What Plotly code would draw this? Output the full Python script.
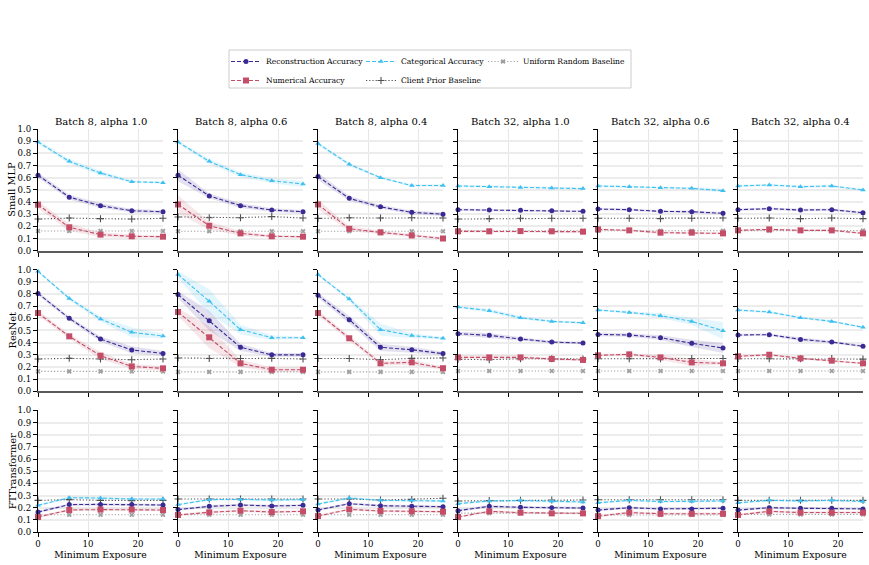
import plotly.graph_objects as go
from plotly.subplots import make_subplots

# ---------------- data ----------------
X = [0, 6.25, 12.5, 18.75, 25]
COL_TITLES = ["Batch 8, alpha 1.0", "Batch 8, alpha 0.6", "Batch 8, alpha 0.4",
              "Batch 32, alpha 1.0", "Batch 32, alpha 0.6", "Batch 32, alpha 0.4"]
ROW_NAMES = ["Small MLP", "ResNet", "FTTransformer"]
SERIES_NAMES = ["Reconstruction Accuracy", "Numerical Accuracy", "Categorical Accuracy",
                "Client Prior Baseline", "Uniform Random Baseline"]
Y_TICKS = [0.0, 0.1, 0.2, 0.3, 0.4, 0.5, 0.6, 0.7, 0.8, 0.9, 1.0]
X_TICKS = [0, 10, 20]
X_LABEL = "Minimum Exposure"

# Small MLP (one list per column)
MLP_REC = [[0.62, 0.44, 0.37, 0.328, 0.32],
           [0.62, 0.45, 0.37, 0.334, 0.32],
           [0.61, 0.43, 0.36, 0.315, 0.30],
           [0.337, 0.334, 0.332, 0.329, 0.323],
           [0.342, 0.337, 0.323, 0.32, 0.307],
           [0.337, 0.345, 0.334, 0.337, 0.312]]
MLP_REC_SD = [[0.02, 0.02, 0.02, 0.015, 0.015],
              [0.05, 0.02, 0.02, 0.015, 0.015],
              [0.03, 0.02, 0.015, 0.015, 0.015],
              [0.01, 0.01, 0.01, 0.01, 0.01],
              [0.01, 0.01, 0.01, 0.01, 0.01],
              [0.01, 0.01, 0.01, 0.01, 0.01]]
MLP_NUM = [[0.378, 0.192, 0.132, 0.118, 0.115],
           [0.38, 0.205, 0.142, 0.118, 0.115],
           [0.38, 0.18, 0.15, 0.125, 0.10],
           [0.159, 0.159, 0.161, 0.159, 0.156],
           [0.175, 0.167, 0.148, 0.148, 0.142],
           [0.167, 0.175, 0.167, 0.167, 0.142]]
MLP_NUM_SD = [[0.03, 0.03, 0.02, 0.015, 0.01],
              [0.075, 0.03, 0.02, 0.01, 0.01],
              [0.04, 0.02, 0.015, 0.01, 0.01],
              [0.01, 0.01, 0.01, 0.01, 0.01],
              [0.01, 0.01, 0.01, 0.01, 0.01],
              [0.01, 0.01, 0.01, 0.01, 0.01]]
MLP_CAT = [[0.893, 0.734, 0.638, 0.567, 0.559],
           [0.893, 0.734, 0.625, 0.575, 0.548],
           [0.88, 0.71, 0.60, 0.535, 0.535],
           [0.532, 0.526, 0.52, 0.515, 0.51],
           [0.532, 0.526, 0.518, 0.512, 0.493],
           [0.532, 0.54, 0.526, 0.532, 0.499]]
MLP_CAT_SD = [[0.015, 0.02, 0.02, 0.01, 0.01],
              [0.015, 0.02, 0.02, 0.02, 0.025],
              [0.015, 0.015, 0.01, 0.01, 0.01],
              [0.01, 0.01, 0.01, 0.01, 0.01],
              [0.01, 0.01, 0.01, 0.01, 0.015],
              [0.01, 0.01, 0.01, 0.01, 0.01]]
MLP_CLIENT = [[0.26, 0.268, 0.263, 0.26, 0.266],
              [0.277, 0.271, 0.271, 0.28, 0.268],
              [0.265, 0.27, 0.268, 0.27, 0.268],
              [0.26, 0.263, 0.266, 0.266, 0.266],
              [0.266, 0.266, 0.263, 0.266, 0.268],
              [0.266, 0.268, 0.263, 0.268, 0.263]]
MLP_UNIFORM = [[0.162] * 5, [0.159] * 5, [0.16] * 5,
               [0.164] * 5, [0.164] * 5, [0.165] * 5]

# ResNet
RES_REC = [[0.805, 0.60, 0.43, 0.34, 0.312],
           [0.795, 0.581, 0.362, 0.30, 0.30],
           [0.79, 0.589, 0.362, 0.342, 0.31],
           [0.474, 0.46, 0.43, 0.405, 0.397],
           [0.468, 0.463, 0.441, 0.395, 0.356],
           [0.463, 0.466, 0.427, 0.405, 0.37]]
RES_REC_SD = [[0.015, 0.015, 0.02, 0.03, 0.02],
              [0.03, 0.08, 0.03, 0.015, 0.015],
              [0.02, 0.03, 0.03, 0.025, 0.015],
              [0.015, 0.02, 0.015, 0.01, 0.01],
              [0.015, 0.015, 0.02, 0.03, 0.04],
              [0.01, 0.01, 0.015, 0.01, 0.01]]
RES_NUM = [[0.644, 0.452, 0.293, 0.205, 0.189],
           [0.652, 0.444, 0.23, 0.178, 0.178],
           [0.644, 0.436, 0.23, 0.238, 0.19],
           [0.279, 0.279, 0.279, 0.266, 0.258],
           [0.296, 0.304, 0.279, 0.238, 0.23],
           [0.288, 0.301, 0.271, 0.252, 0.23]]
RES_NUM_SD = [[0.02, 0.02, 0.03, 0.02, 0.02],
              [0.03, 0.09, 0.03, 0.02, 0.02],
              [0.02, 0.02, 0.02, 0.02, 0.015],
              [0.015, 0.015, 0.015, 0.01, 0.01],
              [0.01, 0.01, 0.02, 0.03, 0.01],
              [0.01, 0.01, 0.01, 0.01, 0.01]]
RES_CAT = [[0.986, 0.764, 0.595, 0.485, 0.455],
           [0.96, 0.74, 0.507, 0.441, 0.441],
           [0.96, 0.759, 0.507, 0.458, 0.436],
           [0.693, 0.663, 0.605, 0.575, 0.564],
           [0.668, 0.649, 0.622, 0.575, 0.499],
           [0.668, 0.652, 0.605, 0.575, 0.526]]
RES_CAT_SD = [[0.01, 0.015, 0.02, 0.04, 0.02],
              [0.03, 0.1, 0.04, 0.02, 0.01],
              [0.01, 0.015, 0.05, 0.02, 0.01],
              [0.01, 0.015, 0.015, 0.01, 0.01],
              [0.01, 0.01, 0.02, 0.03, 0.07],
              [0.01, 0.01, 0.01, 0.01, 0.01]]
RES_CLIENT = [[0.266, 0.271, 0.266, 0.26, 0.266],
              [0.274, 0.27, 0.27, 0.271, 0.266],
              [0.27, 0.27, 0.26, 0.271, 0.274],
              [0.263, 0.26, 0.268, 0.268, 0.266],
              [0.268, 0.268, 0.268, 0.27, 0.27],
              [0.268, 0.268, 0.268, 0.27, 0.265]]
RES_UNIFORM = [[0.164] * 5, [0.16] * 5, [0.16] * 5,
               [0.167] * 5, [0.167] * 5, [0.167] * 5]

# FTTransformer
FT_REC = [[0.164, 0.225, 0.227, 0.225, 0.222],
          [0.184, 0.211, 0.222, 0.214, 0.219],
          [0.181, 0.233, 0.216, 0.211, 0.208],
          [0.175, 0.211, 0.203, 0.2, 0.197],
          [0.18, 0.2, 0.19, 0.19, 0.195],
          [0.18, 0.2, 0.195, 0.195, 0.19]]
FT_NUM = [[0.123, 0.181, 0.184, 0.184, 0.181],
          [0.14, 0.162, 0.175, 0.164, 0.17],
          [0.131, 0.186, 0.173, 0.17, 0.167],
          [0.123, 0.17, 0.159, 0.153, 0.153],
          [0.13, 0.16, 0.15, 0.15, 0.15],
          [0.14, 0.17, 0.16, 0.16, 0.16]]
FT_CAT = [[0.219, 0.282, 0.279, 0.271, 0.271],
          [0.225, 0.266, 0.268, 0.263, 0.266],
          [0.23, 0.279, 0.26, 0.26, 0.255],
          [0.233, 0.255, 0.258, 0.252, 0.247],
          [0.24, 0.26, 0.25, 0.25, 0.255],
          [0.24, 0.26, 0.255, 0.26, 0.25]]
FT_SD = [[0.01, 0.01, 0.01, 0.01, 0.01]] * 6
FT_CLIENT = [[0.26, 0.266, 0.26, 0.258, 0.26],
             [0.271, 0.271, 0.271, 0.271, 0.271],
             [0.271, 0.271, 0.263, 0.268, 0.277],
             [0.255, 0.258, 0.26, 0.263, 0.263],
             [0.265, 0.265, 0.265, 0.265, 0.265],
             [0.26, 0.26, 0.26, 0.26, 0.26]]
FT_UNIFORM = [[0.142] * 5, [0.142] * 5, [0.142] * 5,
              [0.155] * 5, [0.14] * 5, [0.145] * 5]

MODELS = [
    (MLP_REC, MLP_REC_SD, MLP_NUM, MLP_NUM_SD, MLP_CAT, MLP_CAT_SD, MLP_CLIENT, MLP_UNIFORM),
    (RES_REC, RES_REC_SD, RES_NUM, RES_NUM_SD, RES_CAT, RES_CAT_SD, RES_CLIENT, RES_UNIFORM),
    (FT_REC, FT_SD, FT_NUM, FT_SD, FT_CAT, FT_SD, FT_CLIENT, FT_UNIFORM),
]

# ---------------- styles ----------------
FONT = "DejaVu Serif"
W, H = 869, 565
ML, MR, MT, MB = 38, 6, 129, 33
PW, PH = W - ML - MR, H - MT - MB

C_REC = "#3a2a93"
C_NUM = "#c44e68"
C_CAT = "#3ec0f0"
C_CLIENT = "#505050"
C_UNI = "#a0a0a0"


def rgba(hexc, a):
    h = hexc.lstrip("#")
    return "rgba(%d,%d,%d,%.2f)" % (int(h[0:2], 16), int(h[2:4], 16), int(h[4:6], 16), a)


DASHED = "4px,2px"
DOTTED = "1.2px,2px"
STYLES = [
    dict(color=C_REC, dash=DASHED, symbol="circle", size=5, legend="legend"),
    dict(color=C_NUM, dash=DASHED, symbol="square", size=6, legend="legend"),
    dict(color=C_CAT, dash=DASHED, symbol="triangle-up", size=5, legend="legend2"),
    dict(color=C_CLIENT, dash=DOTTED, symbol="cross-thin", size=5, legend="legend2"),
    dict(color=C_UNI, dash=DOTTED, symbol="x", size=4.5, legend="legend3"),
]

fig = make_subplots(rows=3, cols=6, subplot_titles=COL_TITLES,
                    horizontal_spacing=15 / PW, vertical_spacing=19 / PH)

for r, model in enumerate(MODELS):
    rec, rec_sd, num, num_sd, cat, cat_sd, client, uni = model
    for c in range(6):
        means = [rec[c], num[c], cat[c], client[c], uni[c]]
        sds = [rec_sd[c], num_sd[c], cat_sd[c], None, None]
        # shaded spread bands
        for k in range(3):
            m, s = means[k], sds[k]
            up = [a + b for a, b in zip(m, s)]
            lo = [a - b for a, b in zip(m, s)]
            fig.add_trace(go.Scatter(
                x=X + X[::-1], y=up + lo[::-1], fill="toself",
                fillcolor=rgba(STYLES[k]["color"], 0.14), line=dict(width=0),
                mode="lines", showlegend=False, hoverinfo="skip"), row=r + 1, col=c + 1)
        for k in [4, 3, 0, 1, 2]:
            st = STYLES[k]
            mline = dict(width=1.1, color=st["color"]) if st["symbol"] == "cross-thin" else dict(width=0)
            fig.add_trace(go.Scatter(
                x=X, y=means[k], mode="lines+markers", name=SERIES_NAMES[k],
                line=dict(color=st["color"], dash=st["dash"], width=1.1),
                marker=dict(symbol=st["symbol"], size=st["size"], color=st["color"], line=mline),
                cliponaxis=False,
                legend=st["legend"], legendrank=k,
                showlegend=(r == 0 and c == 0)), row=r + 1, col=c + 1)

for r in range(3):
    for c in range(6):
        bottom = (r == 2)
        fig.update_xaxes(row=r + 1, col=c + 1, range=[0, 25], tickvals=X_TICKS,
                         showticklabels=bottom, ticks="outside", ticklen=4,
                         tickcolor="black", showline=True,
                         linecolor="black" if bottom else "#5a5a5a",
                         linewidth=1.3 if bottom else 2.2,
                         showgrid=True, gridcolor="#e6e6e6", gridwidth=1,
                         zeroline=False,
                         tickfont=dict(family=FONT, size=8.6, color="black"),
                         title=dict(text=X_LABEL if bottom else None,
                                    font=dict(family=FONT, size=9.3, color="black"),
                                    standoff=3))
        fig.update_yaxes(row=r + 1, col=c + 1, range=[0, 1.0], tickvals=Y_TICKS,
                         tickformat=".1f", showticklabels=(c == 0),
                         ticks="outside", ticklen=4, tickcolor="black",
                         showline=True, linecolor="black", linewidth=1.3,
                         showgrid=True, gridcolor="#ececec", gridwidth=1.5,
                         zeroline=False,
                         tickfont=dict(family=FONT, size=8.6, color="black"))

# subplot title fonts
for ann in fig.layout.annotations:
    ann.font = dict(family=FONT, size=10, color="black")

# row labels
for r, name in enumerate(ROW_NAMES):
    dom = fig.layout["yaxis%s" % ("" if r == 0 else str(r * 6 + 1))].domain
    fig.add_annotation(text=name, textangle=-90, xref="paper", yref="paper",
                       x=(12 - ML) / PW, y=(dom[0] + dom[1]) / 2,
                       xanchor="center", yanchor="middle", showarrow=False,
                       font=dict(family=FONT, size=9.8, color="black"))


def px_x(px):
    return (px - ML) / PW


def px_y(py):
    return (H - MB - py) / PH


leg_common = dict(font=dict(family=FONT, size=7.6, color="black"), bgcolor="rgba(0,0,0,0)",
                  borderwidth=0, orientation="v", yanchor="top", xanchor="left",
                  tracegroupgap=0, itemwidth=30)
fig.update_layout(
    legend=dict(x=px_x(226), y=px_y(47), **leg_common),
    legend2=dict(x=px_x(361), y=px_y(47), **leg_common),
    legend3=dict(x=px_x(483), y=px_y(47), **leg_common),
)
fig.add_shape(type="rect", xref="paper", yref="paper",
              x0=px_x(229), x1=px_x(631), y0=px_y(50), y1=px_y(88),
              line=dict(color="#cccccc", width=1), fillcolor="rgba(0,0,0,0)", layer="above")

fig.update_layout(width=W, height=H, margin=dict(l=ML, r=MR, t=MT, b=MB, autoexpand=False),
                  paper_bgcolor="white", plot_bgcolor="white", showlegend=True,
                  font=dict(family=FONT, color="black"))

fig.write_html("out.html")
